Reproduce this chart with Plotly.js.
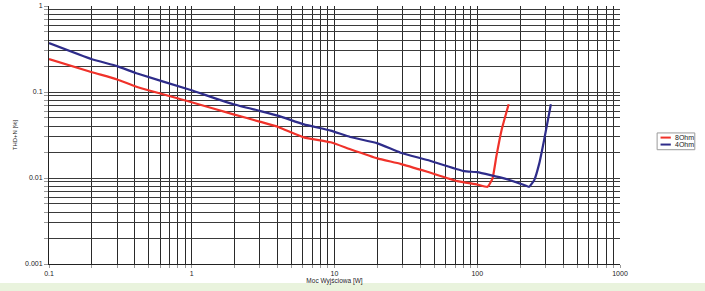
<!DOCTYPE html>
<html><head><meta charset="utf-8">
<script src="https://cdn.plot.ly/plotly-3.0.1.min.js"></script>
<style>
html,body{margin:0;padding:0;width:705px;height:291px;overflow:hidden;
  background:linear-gradient(#ffffff 0px, #ffffff 283px, #e9f3dd 283px, #e9f3dd 291px)}
#chart{width:705px;height:291px}
</style></head><body>
<div id="chart"></div>
<script>
// Data
const power8 = [0.1, 0.2, 0.3, 0.41, 0.97, 1.96, 3.03, 4.07, 6.1, 9.4, 12.9, 20, 29, 44.7, 72.6, 100, 118, 128, 136, 148, 166];
const thd8   = [0.242, 0.17, 0.14, 0.115, 0.077, 0.055, 0.045, 0.039, 0.0297, 0.026, 0.0216, 0.0169, 0.0146, 0.0118, 0.0092, 0.0084, 0.0079, 0.0099, 0.0177, 0.036, 0.072];
const power4 = [0.1, 0.2, 0.3, 0.41, 0.97, 1.96, 3.03, 4.07, 6.1, 9.4, 12.9, 20, 29, 44.7, 80.8, 100, 154, 213, 231, 251, 272, 294, 328];
const thd4   = [0.37, 0.24, 0.20, 0.165, 0.106, 0.072, 0.060, 0.0527, 0.042, 0.0355, 0.030, 0.0253, 0.0197, 0.0162, 0.012, 0.0117, 0.0099, 0.0083, 0.0079, 0.0095, 0.0148, 0.0277, 0.072];
const seriesNames = ['8Ohm', '4Ohm'];
const seriesColors = ['#f0322a', '#2e2c8a'];
const xDecades = [0.1, 1, 10, 100, 1000];
const xDecadeLabels = ['0.1', '1', '10', '100', '1000'];
const yDecades = [0.001, 0.01, 0.1, 1];
const yDecadeLabels = ['0.001', '0.01', '0.1', '1'];

function logTicks(decades, labels) {
  const vals = [], text = [];
  decades.forEach((d, i) => {
    vals.push(d); text.push(labels[i]);
    if (i < decades.length - 1) {
      for (let k = 2; k <= 9; k++) { vals.push(d * k); text.push(''); }
    }
  });
  return {vals, text};
}
const xt = logTicks(xDecades, xDecadeLabels);
const yt = logTicks(yDecades, yDecadeLabels);

const font = {family: 'Liberation Sans, Arial, sans-serif', color: '#222'};
const f = s => Object.assign({size: s}, font);
const traces = [
  {x: power8, y: thd8, name: seriesNames[0], type: 'scatter', mode: 'lines',
   line: {color: seriesColors[0], width: 2.2, shape: 'spline', smoothing: 0.4}},
  {x: power4, y: thd4, name: seriesNames[1], type: 'scatter', mode: 'lines',
   line: {color: seriesColors[1], width: 2.2, shape: 'spline', smoothing: 0.4}}
];

// compact legend box (paper coords)
const lgX0 = 1.065, lgX1 = 1.131, lgY1 = 0.508, lgY0 = 0.443;
const shapes = [
  {type: 'rect', xref: 'paper', yref: 'paper', x0: lgX0, x1: lgX1, y0: lgY0, y1: lgY1,
   line: {color: '#9a9a9a', width: 1}, fillcolor: '#fff'}
];
const annotations = [];
seriesNames.forEach((n, i) => {
  const yy = lgY1 - 0.018 - i * 0.027;
  shapes.push({type: 'line', xref: 'paper', yref: 'paper', x0: lgX0 + 0.006, x1: lgX0 + 0.024,
               y0: yy, y1: yy, line: {color: seriesColors[i], width: 2}});
  annotations.push({xref: 'paper', yref: 'paper', x: lgX0 + 0.027, y: yy, xanchor: 'left', yanchor: 'middle',
                    text: n, showarrow: false, font: f(7)});
});

const layout = {
  width: 705, height: 291,
  margin: {l: 49, r: 85, t: 6, b: 27, autoexpand: false},
  paper_bgcolor: 'rgba(0,0,0,0)', plot_bgcolor: '#ffffff',
  font: f(7),
  showlegend: false,
  shapes, annotations,
  xaxis: {type: 'log', range: [-1, 3], tickvals: xt.vals, ticktext: xt.text,
          showgrid: true, gridcolor: '#2a2a2a', gridwidth: 1,
          ticks: 'outside', ticklen: 3, tickcolor: '#999',
          showline: true, linecolor: '#222', linewidth: 1,
          zeroline: false, tickfont: f(7), automargin: false,
          title: {text: 'Moc Wyjściowa [W]', font: f(6.5), standoff: 1}},
  yaxis: {type: 'log', range: [-3, 0], tickvals: yt.vals, ticktext: yt.text,
          showgrid: true, gridcolor: '#3a3a3a', gridwidth: 1,
          ticks: 'outside', ticklen: 4, tickcolor: '#999',
          showline: true, linecolor: '#222', linewidth: 1,
          zeroline: false, tickfont: f(7), automargin: false,
          title: {text: 'THD+N [%]', font: f(6), standoff: 6}}
};
Plotly.newPlot('chart', traces, layout, {displayModeBar: false, staticPlot: true});
</script>
</body></html>
